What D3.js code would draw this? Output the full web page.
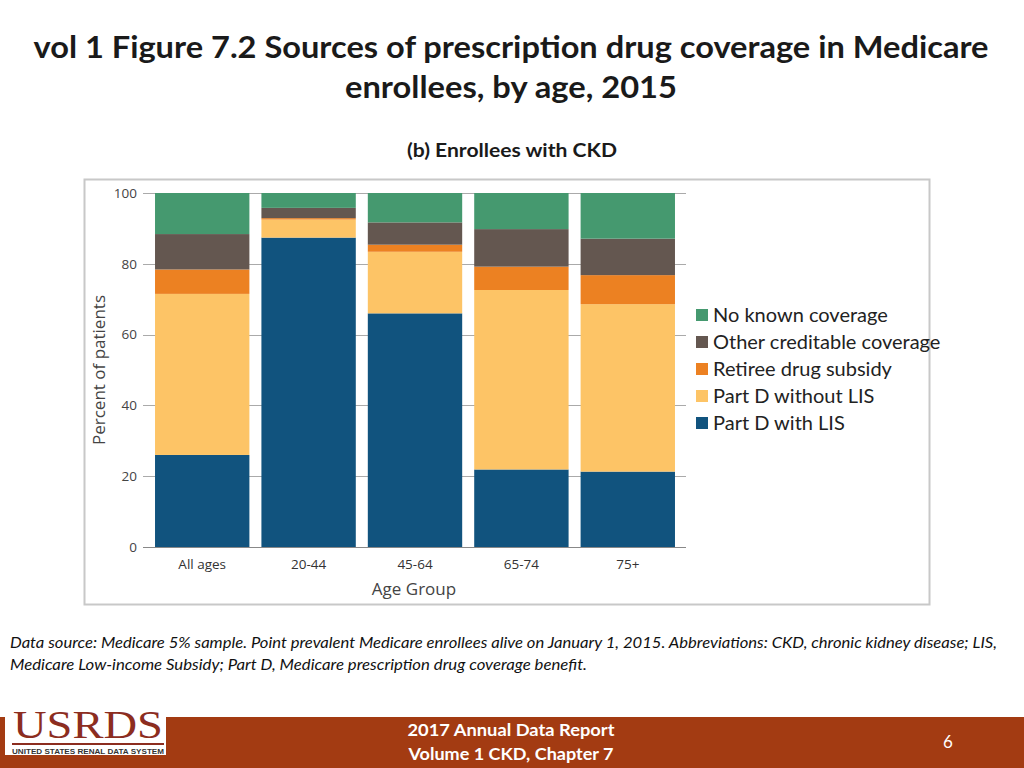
<!DOCTYPE html>
<html><head><meta charset="utf-8">
<script src="https://cdn.jsdelivr.net/npm/d3@7"></script>
<style>body{margin:0;background:#fff}svg{display:block}</style>
</head><body>
<svg id="c" width="1024" height="768"></svg>
<script>
const categories = ["All ages","20-44","45-64","65-74","75+"];
const seriesNames = ["Part D with LIS","Part D without LIS","Retiree drug subsidy","Other creditable coverage","No known coverage"];
const partDWithLIS     = [26.0, 87.4, 66.0, 21.9, 21.3];
const partDWithoutLIS  = [45.5, 5.1, 17.4, 50.7, 47.3];
const retireeSubsidy   = [6.9, 0.4, 2.0, 6.6, 8.2];
const otherCreditable  = [10.0, 2.9, 6.3, 10.6, 10.3];
const noKnownCoverage  = [11.6, 4.2, 8.3, 10.2, 12.9];
const yTicks = [0,20,40,60,80,100];
const colors = ["#11537e","#fdc466","#ec8122","#645750","#45996f"];

const keys = ["lis","nolis","ret","oth","none"];
const table = categories.map((c,i)=>({cat:c, lis:partDWithLIS[i], nolis:partDWithoutLIS[i], ret:retireeSubsidy[i], oth:otherCreditable[i], none:noKnownCoverage[i]}));
const stacked = d3.stack().keys(keys)(table);

const svg = d3.select("#c");
const W = 1024;
const fontT = "Lato, 'Open Sans', sans-serif";

// Title
svg.append("text").attr("x",511).attr("y",58).attr("text-anchor","middle")
  .attr("font-family",fontT).attr("font-weight","bold").attr("font-size",31).attr("fill","#1a1a1a")
  .attr("textLength",955).attr("lengthAdjust","spacingAndGlyphs")
  .text("vol 1 Figure 7.2 Sources of prescription drug coverage in Medicare");
svg.append("text").attr("x",511).attr("y",98).attr("text-anchor","middle")
  .attr("font-family",fontT).attr("font-weight","bold").attr("font-size",31).attr("fill","#1a1a1a")
  .attr("textLength",332).attr("lengthAdjust","spacingAndGlyphs")
  .text("enrollees, by age, 2015");
svg.append("text").attr("x",512).attr("y",157).attr("text-anchor","middle")
  .attr("font-family",fontT).attr("font-weight","bold").attr("font-size",19).attr("fill","#1a1a1a")
  .attr("textLength",210).attr("lengthAdjust","spacingAndGlyphs")
  .text("(b) Enrollees with CKD");

// Chart frame
svg.append("rect").attr("x",84.5).attr("y",179.5).attr("width",845).attr("height",425)
  .attr("fill","#fff").attr("stroke","#c8c8c8").attr("stroke-width",2);

const x = d3.scaleBand().domain(categories).range([143,687]).paddingInner(0.113).paddingOuter(0.113);
const y = d3.scaleLinear().domain([0,100]).range([547,193]);

const fontAx = "'Open Sans', 'Noto Sans', sans-serif";

// gridlines
const g = svg.append("g");
g.selectAll("line.grid").data(yTicks).join("line")
  .attr("x1",143).attr("x2",686).attr("y1",d=>Math.round(y(d))+0.5).attr("y2",d=>Math.round(y(d))+0.5)
  .attr("stroke",d=>d===0?"#888":"#aaa").attr("stroke-width",1);

// y axis labels
const yAxis = d3.axisLeft(y).tickValues(yTicks).tickSize(0).tickPadding(6);
const ya = svg.append("g").attr("transform","translate(143,0)").call(yAxis);
ya.select(".domain").remove();
ya.selectAll("text").attr("font-family",fontAx).attr("font-size",13.5).attr("fill","#444");

// bars
svg.append("g").selectAll("g").data(stacked).join("g").attr("fill",(d,i)=>colors[i])
  .selectAll("rect").data(d=>d).join("rect")
  .attr("x",d=>x(d.data.cat)).attr("width",x.bandwidth())
  .attr("y",d=>y(d[1])).attr("height",d=>y(d[0])-y(d[1]));

// x axis labels
const xAxis = d3.axisBottom(x).tickSize(0).tickPadding(12);
const xa = svg.append("g").attr("transform","translate(0,547)").call(xAxis);
xa.select(".domain").remove();
xa.selectAll("text").attr("font-family",fontAx).attr("font-size",13.5).attr("fill","#333");

svg.append("text").attr("x",414).attr("y",595).attr("text-anchor","middle")
  .attr("font-family",fontAx).attr("font-size",17).attr("fill","#444").text("Age Group");
svg.append("text").attr("transform","translate(105,370) rotate(-90)").attr("text-anchor","middle")
  .attr("font-family",fontAx).attr("font-size",17).attr("fill","#444").text("Percent of patients");

// legend
const legendOrder = [4,3,2,1,0];
const lg = svg.append("g");
legendOrder.forEach((si,k)=>{
  const yy = 315 + k*27;
  lg.append("rect").attr("x",696).attr("y",yy-6).attr("width",12).attr("height",12).attr("fill",colors[si]);
  lg.append("text").attr("x",713).attr("y",yy+7).attr("font-family",fontT)
    .attr("font-size",20).attr("fill","#222").text(seriesNames[si]);
});

// footnote
const fn = svg.append("g").attr("font-family",fontT).attr("font-style","italic").attr("font-size",15).attr("fill","#111");
fn.append("text").attr("x",10).attr("y",648).attr("textLength",987).attr("lengthAdjust","spacingAndGlyphs")
  .text("Data source: Medicare 5% sample. Point prevalent Medicare enrollees alive on January 1, 2015. Abbreviations: CKD, chronic kidney disease; LIS,");
fn.append("text").attr("x",10).attr("y",670).attr("textLength",577).attr("lengthAdjust","spacingAndGlyphs")
  .text("Medicare Low-income Subsidy; Part D, Medicare prescription drug coverage benefit.");

// footer
svg.append("rect").attr("x",0).attr("y",717).attr("width",W).attr("height",51).attr("fill","#a33b12");
svg.append("text").attr("x",511).attr("y",736).attr("text-anchor","middle").attr("font-family",fontT)
  .attr("font-weight","bold").attr("font-size",17).attr("fill","#fff")
  .attr("textLength",207).attr("lengthAdjust","spacingAndGlyphs").text("2017 Annual Data Report");
svg.append("text").attr("x",511).attr("y",760).attr("text-anchor","middle").attr("font-family",fontT)
  .attr("font-weight","bold").attr("font-size",17).attr("fill","#fff")
  .attr("textLength",205).attr("lengthAdjust","spacingAndGlyphs").text("Volume 1 CKD, Chapter 7");
svg.append("text").attr("x",948).attr("y",748).attr("text-anchor","middle").attr("font-family",fontT)
  .attr("font-size",17).attr("fill","#fff").text("6");

// logo
const lo = svg.append("g");
lo.append("rect").attr("x",5).attr("y",703).attr("width",161).attr("height",52).attr("fill","#fff");
lo.append("text").attr("x",88).attr("y",738).attr("text-anchor","middle").attr("font-family","'Liberation Serif', serif")
  .attr("font-size",40).attr("fill","#8c2d1f").attr("textLength",150).attr("lengthAdjust","spacingAndGlyphs").text("USRDS");
lo.append("rect").attr("x",12).attr("y",743).attr("width",152).attr("height",2).attr("fill","#8c2d1f");
lo.append("text").attr("x",88).attr("y",754).attr("text-anchor","middle").attr("font-family","'Liberation Sans', sans-serif")
  .attr("font-size",7).attr("font-weight","bold").attr("fill","#333").attr("textLength",152).attr("lengthAdjust","spacingAndGlyphs").text("UNITED STATES RENAL DATA SYSTEM");
</script>
</body></html>
